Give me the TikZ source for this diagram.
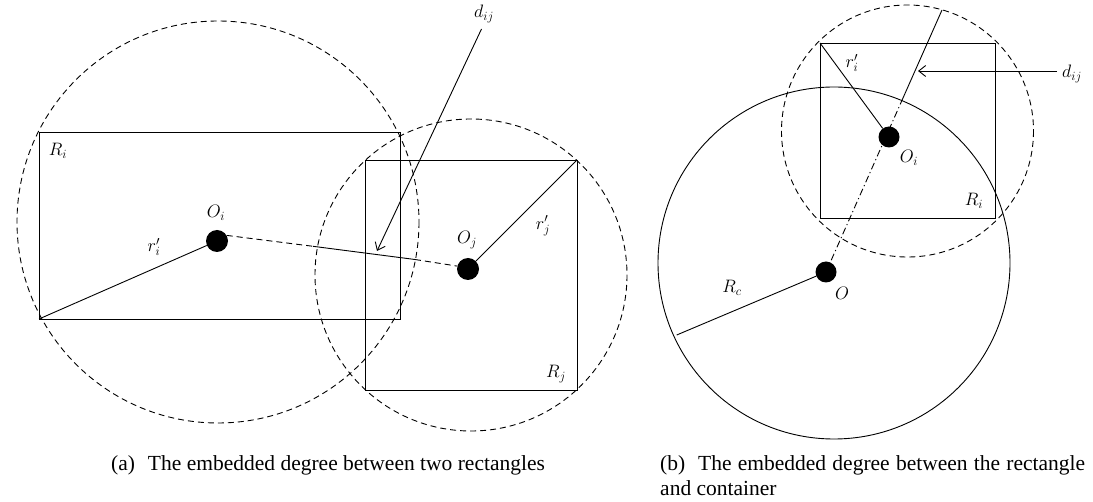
\RequirePackage{fix-cm}
\documentclass[tikz,border=0pt]{standalone}
\usepackage{fontspec}
\newfontfamily\capfont{Liberation Serif}
\usetikzlibrary{arrows.meta}
\begin{document}
\begin{tikzpicture}[x=1pt,y=-1pt,
  ln/.style={line width=0.9pt},
  dsh/.style={line width=0.9pt,dash pattern=on 6pt off 4pt},
  dashdot/.style={line width=0.9pt,dash pattern=on 7pt off 3pt on 1.2pt off 3pt},
  dot/.style={circle,fill=black,inner sep=0pt,minimum size=22pt},
  lbl/.style={font=\fontsize{18}{21}\selectfont,inner sep=0pt},
  captext/.style={font=\capfont\fontsize{21.5}{25}\selectfont,inner sep=0pt},
  arr/.style={line width=0.9pt,-{Straight Barb[length=7pt,width=11pt,line width=0.9pt]}}]
\useasboundingbox (0,0) rectangle (1093,502);
% ---------- (a) ----------
\coordinate (RiNW) at (39,132);
\coordinate (RiSE) at (400,319);
\coordinate (RiSW) at (39,319);
\coordinate (RjNW) at (365,160);
\coordinate (RjSE) at (577,390);
\coordinate (RjNE) at (577,160);
\draw[ln] (RiNW) rectangle (RiSE);
\draw[ln] (RjNW) rectangle (RjSE);
\draw[dsh] (218,222) circle[radius=201];
\draw[dsh] (471,275) circle[radius=156];
\node[dot] (Oi) at (217,241) {};
\node[dot] (Oj) at (468,269) {};
\draw[ln] (RiSW) -- (Oi);
\draw[ln] (Oj) -- (RjNE);
\path (Oi.30) coordinate (dA) (Oj.165) coordinate (dB);
\coordinate (pen1) at (313,246.3);
\coordinate (pen2) at (415,259.5);
\draw[dsh] (dA) -- (pen1);
\draw[ln] (pen1) -- (pen2);
\draw[dsh] (pen2) -- (dB);
\node[lbl] (dija) at (484,14) {$d_{ij}$};
\coordinate (arrAs) at (481.5,29);
\coordinate (arrAe) at (377,251);
\draw[arr] (arrAs) -- (arrAe);
\node[lbl] (lRi) at (58,151) {$R_i$};
\node[lbl] (lOi) at (216,213) {$O_i$};
\node[lbl] (lri) at (154,247) {$r'_i$};
\node[lbl] (lOj) at (467,240) {$O_j$};
\node[lbl] (lrj) at (543,226) {$r'_j$};
\node[lbl] (lRj) at (556,374) {$R_j$};
% ---------- (b) ----------
\coordinate (SqNW) at (820,43);
\coordinate (SqSE) at (995,218);
\draw[ln] (SqNW) rectangle (SqSE);
\draw[dsh] (907.5,131) circle[radius=126];
\draw[ln] (834,263) circle[radius=176];
\node[dot,minimum size=21pt] (Oi2) at (889,137) {};
\node[dot,minimum size=21pt] (O) at (826,272) {};
\draw[ln] (SqNW) -- (Oi2);
\coordinate (Rcend) at (676.7,335);
\draw[ln] (O) -- (Rcend);
\coordinate (dtop) at (942,10);
\coordinate (dmid) at (903,98);
\draw[ln] (dtop) -- (dmid);
\draw[dashdot] (dmid) -- (O);
\node[lbl,anchor=west] (dijb) at (1062,74) {$d_{ij}$};
\coordinate (arrBs) at (1057,71);
\coordinate (arrBe) at (918,71);
\draw[arr] (arrBs) -- (arrBe);
\node[lbl] (lri2) at (852,63) {$r'_i$};
\node[lbl] (lOi2) at (909,158) {$O_i$};
\node[lbl] (lRi2) at (974,201) {$R_i$};
\node[lbl] (lRc) at (732,288) {$R_c$};
\node[lbl] (lO) at (842,293) {$O$};
% ---------- captions ----------
\node[captext,anchor=base west] (capa) at (111,471) {(a)\hspace{0.6em}The embedded degree between two rectangles};
\node[captext,anchor=base west] (capb1) at (660,471) {\makebox[425pt][s]{(b)\hspace{0.6em}The embedded degree between the rectangle}};
\node[captext,anchor=base west] (capb2) at (660,496) {and container};
\end{tikzpicture}
\end{document}
